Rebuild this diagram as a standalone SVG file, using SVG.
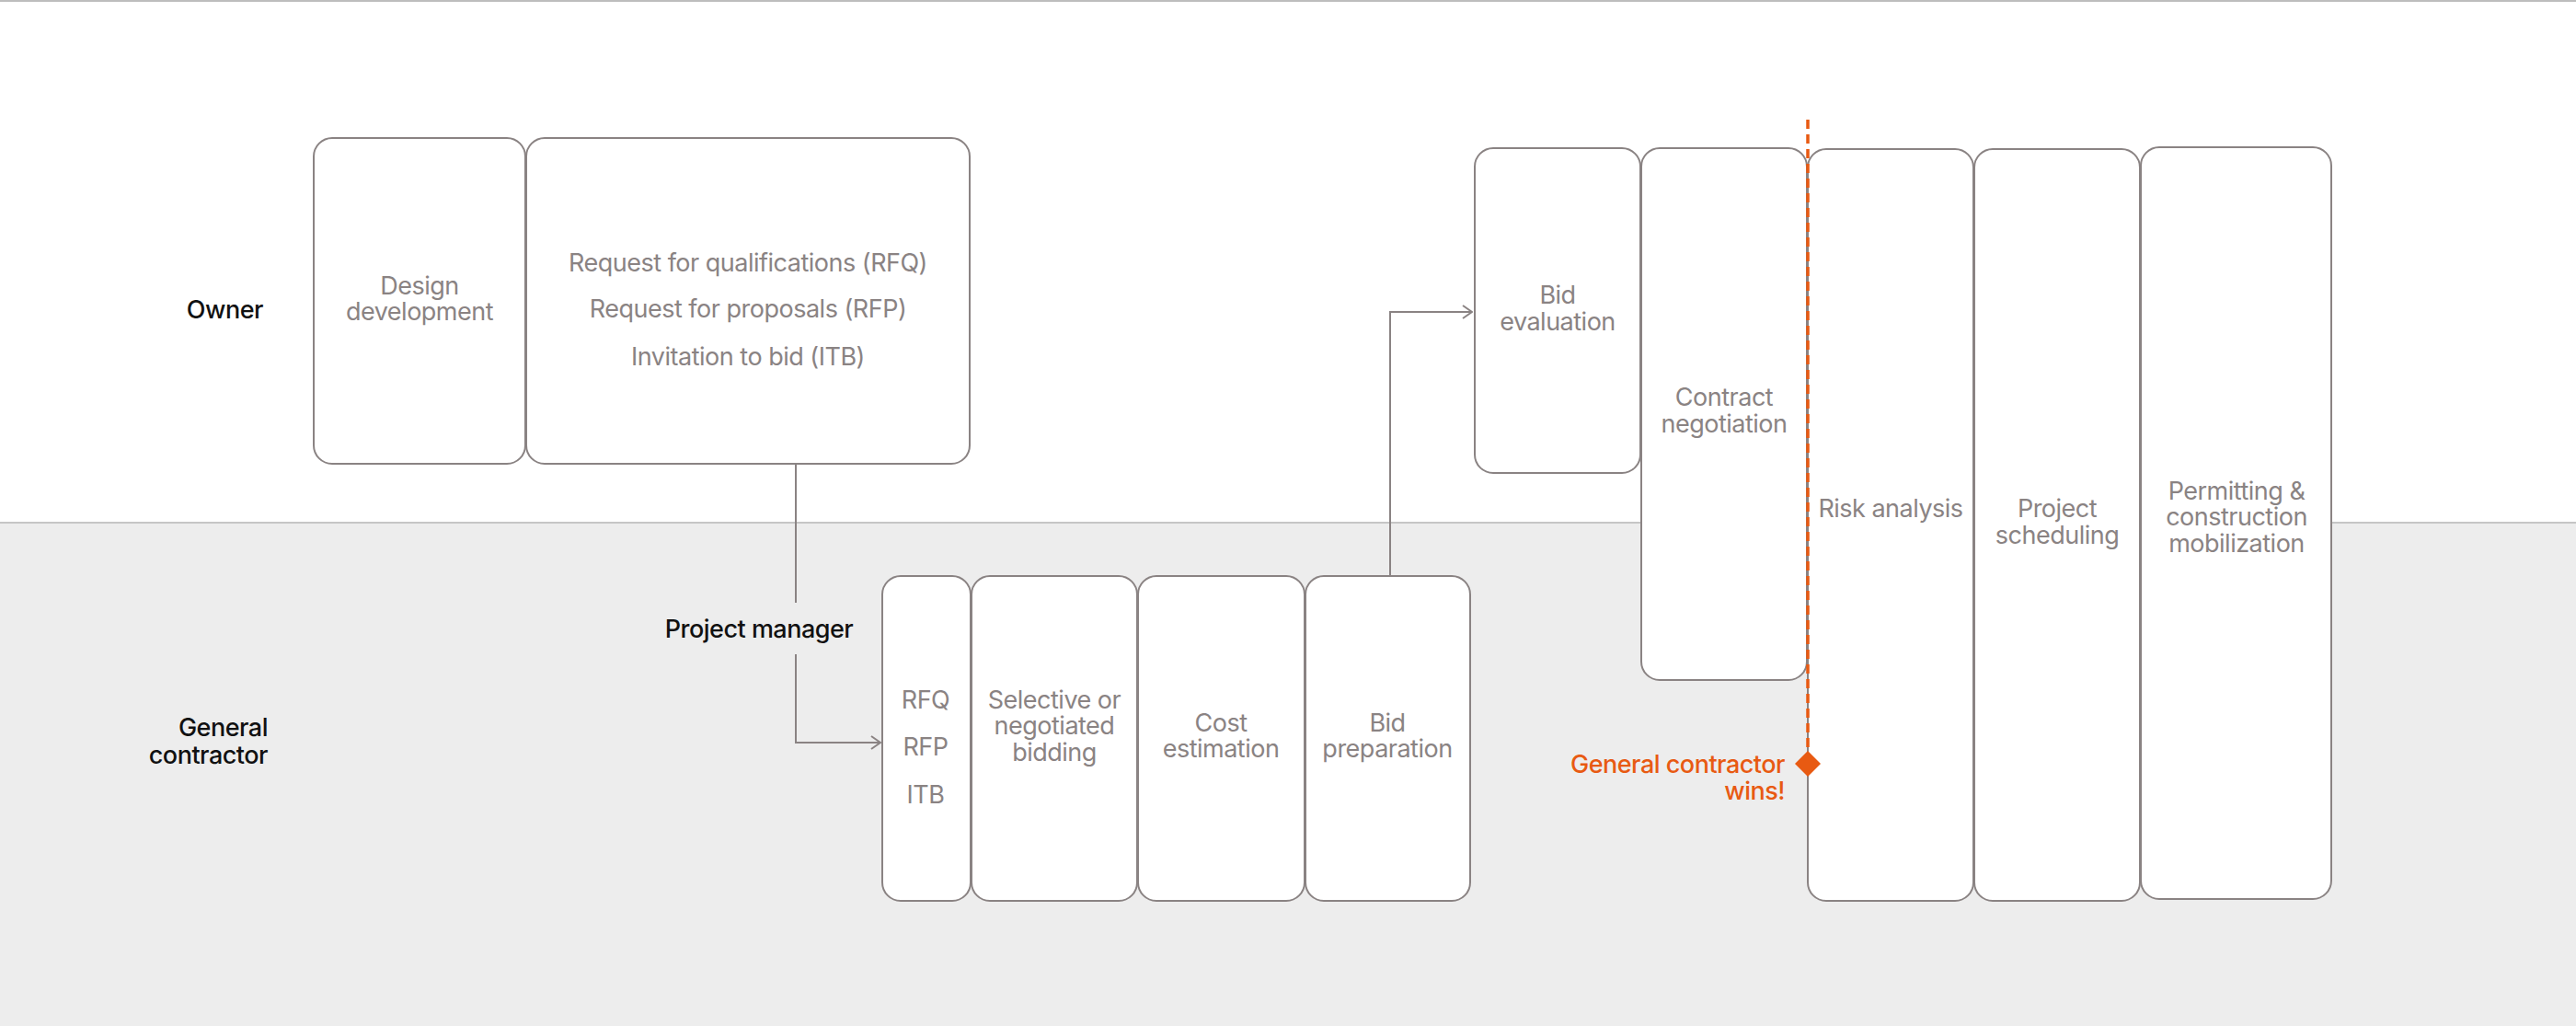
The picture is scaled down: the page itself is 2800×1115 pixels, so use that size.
<svg xmlns="http://www.w3.org/2000/svg" width="2800" height="1115" viewBox="0 0 2800 1115">
<style>
.box{fill:#ffffff;stroke:#8a8383;stroke-width:2}
.t{font-family:Inter,"Liberation Sans",sans-serif;font-size:27px;fill:#8a8383;text-anchor:middle;letter-spacing:-0.5px}
.lab{font-family:Inter,"Liberation Sans",sans-serif;font-size:27px;fill:#111111;font-weight:500;letter-spacing:-0.5px}
.conn{fill:none;stroke:#8a8383;stroke-width:2}
.win{font-family:Inter,"Liberation Sans",sans-serif;font-size:27px;fill:#e85a12;font-weight:500;text-anchor:end;letter-spacing:-0.5px}
</style>
<defs>
<marker id="arr" viewBox="0 0 12 16" refX="11" refY="8" markerWidth="12" markerHeight="16" markerUnits="userSpaceOnUse" orient="auto">
<path d="M1,1 L11,8 L1,15" fill="none" stroke="#8a8383" stroke-width="2"/>
</marker>
</defs>
<rect x="0" y="0" width="2800" height="1115" fill="#ffffff"/>
<rect x="0" y="568" width="2800" height="547" fill="#ededed"/>
<line x1="0" y1="568" x2="2800" y2="568" stroke="#c6c6c6" stroke-width="2"/>
<line x1="0" y1="1" x2="2800" y2="1" stroke="#bdbdbd" stroke-width="2"/>

<g id="lane-labels">
<text class="lab" x="286" y="346" text-anchor="end">Owner</text>
<text class="lab" x="291" y="800" text-anchor="end">General</text>
<text class="lab" x="291" y="830" text-anchor="end">contractor</text>
</g>

<g id="connectors">
<path class="conn" d="M865,504 V655"/>
<path class="conn" d="M865,711 V807 H957" marker-end="url(#arr)"/>
<path class="conn" d="M1511,625 V339 H1600" marker-end="url(#arr)"/>
<text class="lab" x="825" y="693" text-anchor="middle">Project manager</text>
</g>

<g id="n-design">
<rect class="box" x="341" y="150" width="230" height="354" rx="20"/>
<text class="t" x="456" y="320">Design</text>
<text class="t" x="456" y="348">development</text>
</g>
<g id="n-requests">
<rect class="box" x="572" y="150" width="482" height="354" rx="20"/>
<text class="t" x="813" y="295">Request for qualifications (RFQ)</text>
<text class="t" x="813" y="345">Request for proposals (RFP)</text>
<text class="t" x="813" y="397">Invitation to bid (ITB)</text>
</g>
<g id="n-rfq">
<rect class="box" x="959" y="626" width="96" height="353" rx="20"/>
<text class="t" x="1006" y="770">RFQ</text>
<text class="t" x="1006" y="821">RFP</text>
<text class="t" x="1006" y="873">ITB</text>
</g>
<g id="n-selective">
<rect class="box" x="1056" y="626" width="180" height="353" rx="20"/>
<text class="t" x="1146" y="770">Selective or</text>
<text class="t" x="1146" y="798">negotiated</text>
<text class="t" x="1146" y="827">bidding</text>
</g>
<g id="n-cost">
<rect class="box" x="1237" y="626" width="181" height="353" rx="20"/>
<text class="t" x="1327" y="795">Cost</text>
<text class="t" x="1327" y="823">estimation</text>
</g>
<g id="n-bidprep">
<rect class="box" x="1419" y="626" width="179" height="353" rx="20"/>
<text class="t" x="1508" y="795">Bid</text>
<text class="t" x="1508" y="823">preparation</text>
</g>
<g id="n-bideval">
<rect class="box" x="1603" y="161" width="180" height="353" rx="20"/>
<text class="t" x="1693" y="330">Bid</text>
<text class="t" x="1693" y="359">evaluation</text>
</g>
<g id="n-contract">
<rect class="box" x="1784" y="161" width="180" height="578" rx="20"/>
<text class="t" x="1874" y="441">Contract</text>
<text class="t" x="1874" y="470">negotiation</text>
</g>
<g id="n-risk">
<rect class="box" x="1965" y="162" width="180" height="817" rx="20"/>
<text class="t" x="2055" y="562">Risk analysis</text>
</g>
<g id="n-schedule">
<rect class="box" x="2146" y="162" width="180" height="817" rx="20"/>
<text class="t" x="2236" y="562">Project</text>
<text class="t" x="2236" y="591">scheduling</text>
</g>
<g id="n-permit">
<rect class="box" x="2327" y="160" width="207" height="817" rx="20"/>
<text class="t" x="2431" y="543">Permitting &amp;</text>
<text class="t" x="2431" y="571">construction</text>
<text class="t" x="2431" y="600">mobilization</text>
</g>

<g id="milestone">
<line x1="1965" y1="130" x2="1965" y2="822" stroke="#e85a12" stroke-width="3.5" stroke-dasharray="10,6"/>
<polygon points="1965,816 1979,830 1965,844 1951,830" fill="#e85a12"/>
<text class="win" x="1940" y="840">General contractor</text>
<text class="win" x="1940" y="869">wins!</text>
</g>
</svg>
